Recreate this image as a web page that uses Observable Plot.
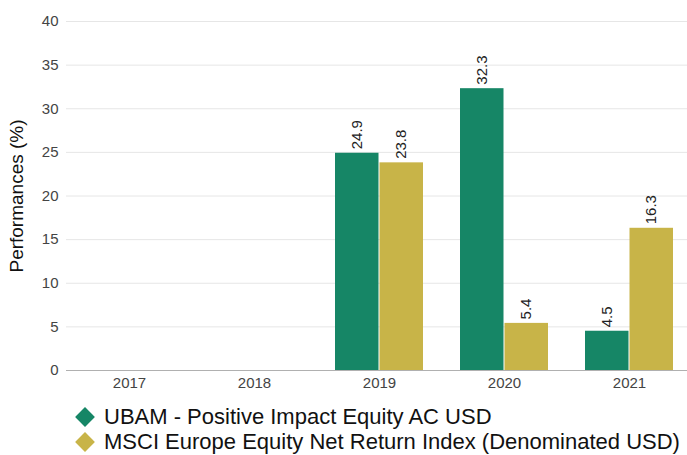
<!DOCTYPE html>
<html>
<head>
<meta charset="utf-8">
<script src="https://cdn.jsdelivr.net/npm/d3@7"></script>
<script src="https://cdn.jsdelivr.net/npm/@observablehq/plot@0.6"></script>
<style>
  html, body { margin: 0; padding: 0; background: #fff; overflow: hidden; width: 687px; }
  body { font-family: "Liberation Sans", Arial, sans-serif; }
  #chart svg { max-width: none !important; display: block; }
  #legend { padding: 9px 0 0 75px; }
  .row { display: flex; align-items: center; height: 25px; line-height: 22px; font-size: 22px; color: #111; white-space: nowrap; }
  .dia { width: 14px; height: 14px; transform: rotate(45deg); margin: 0 12px 0 3px; flex: none; }
</style>
</head>
<body>
<div id="chart"></div>
<div id="legend"></div>
<script>
const years = ["2017", "2018", "2019", "2020", "2021"];
const seriesNames = ["UBAM - Positive Impact Equity AC USD", "MSCI Europe Equity Net Return Index (Denominated USD)"];
const ubamValues = [null, null, 24.9, 32.3, 4.5];
const msciValues = [null, null, 23.8, 5.4, 16.3];
const yTicks = [0, 5, 10, 15, 20, 25, 30, 35, 40];
const colors = ["#168666", "#c8b448"];

const toRows = (vals) => years.map((year, i) => ({year, value: vals[i]})).filter(d => d.value != null);
const ubam = toRows(ubamValues);
const msci = toRows(msciValues);

const chart = Plot.plot({
  width: 693,
  height: 395,
  marginLeft: 66,
  marginRight: 2,
  marginTop: 21,
  marginBottom: 25,
  style: {fontFamily: "Liberation Sans, Arial, sans-serif", background: "#fff"},
  x: {domain: years, paddingInner: 0.648, paddingOuter: 0.324, label: null},
  y: {domain: [0, 40], label: null},
  marks: [
    Plot.gridY(yTicks, {stroke: "#e6e6e6", strokeOpacity: 1}),
    Plot.barY(ubam, {x: "year", y: "value", fill: colors[0], dx: -22, insetRight: 0.5}),
    Plot.barY(msci, {x: "year", y: "value", fill: colors[1], dx: 22, insetLeft: 0.5}),
    Plot.text(ubam, {x: "year", y: "value", text: d => d.value.toFixed(1), rotate: -90, textAnchor: "start", dx: -22, dy: -4, fontSize: 15, fill: "#222"}),
    Plot.text(msci, {x: "year", y: "value", text: d => d.value.toFixed(1), rotate: -90, textAnchor: "start", dx: 22, dy: -4, fontSize: 15, fill: "#222"}),
    Plot.ruleY([0], {stroke: "#b0b0b0"}),
    Plot.axisY(yTicks, {tickSize: 0, tickPadding: 8, fontSize: 15, color: "#444", label: null, line: true, stroke: "#b0b0b0"}),
    Plot.axisX({tickSize: 0, tickPadding: 7, fontSize: 15, color: "#444", label: null}),
    Plot.text(["Performances (%)"], {frameAnchor: "left", textAnchor: "middle", rotate: -90, dx: -50, fontSize: 19, fill: "#111"})
  ]
});
document.getElementById("chart").appendChild(chart);

const legend = document.getElementById("legend");
seriesNames.forEach((name, i) => {
  const row = document.createElement("div");
  row.className = "row";
  const d = document.createElement("span");
  d.className = "dia";
  d.style.background = colors[i];
  const t = document.createElement("span");
  t.textContent = name;
  row.appendChild(d);
  row.appendChild(t);
  legend.appendChild(row);
});
</script>
</body>
</html>
